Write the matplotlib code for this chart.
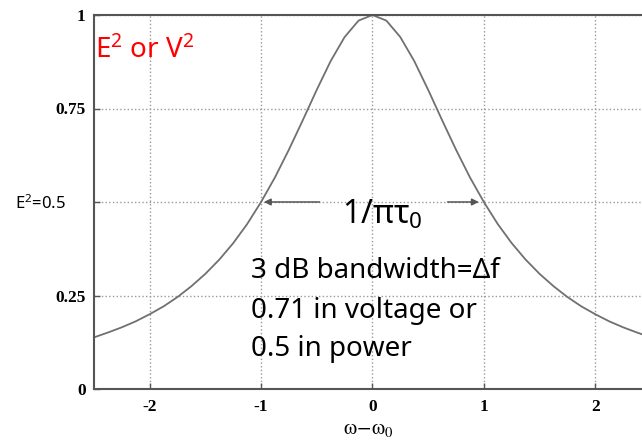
import matplotlib
matplotlib.use('Agg')
from matplotlib import pyplot as plt
from matplotlib import transforms

# values
freq = [-2.5, -2.375, -2.25, -2.125, -2.0, -1.875, -1.75, -1.625, -1.5, -1.375, -1.25, -1.125,
        -1.0, -0.875, -0.75, -0.625, -0.5, -0.375, -0.25, -0.125, 0.0,
        0.125, 0.25, 0.375, 0.5, 0.625, 0.75, 0.875, 1.0,
        1.125, 1.25, 1.375, 1.5, 1.625, 1.75, 1.875, 2.0, 2.125, 2.25, 2.375, 2.5]
power = [0.138, 0.151, 0.165, 0.181, 0.200, 0.221, 0.246, 0.275, 0.308, 0.346, 0.390, 0.441,
         0.500, 0.566, 0.640, 0.719, 0.800, 0.877, 0.941, 0.985, 1.000,
         0.985, 0.941, 0.877, 0.800, 0.719, 0.640, 0.566, 0.500,
         0.441, 0.390, 0.346, 0.308, 0.275, 0.246, 0.221, 0.200, 0.181, 0.165, 0.151, 0.138]
xticks = [-2, -1, 0, 1, 2]
yticks = [0, 0.25, 0.5, 0.75, 1]
ytick_labels = ['0', '0.25', '', '0.75', '1']
notes = ['3 dB bandwidth=\u0394f', '0.71 in voltage or', '0.5 in power']

plt.rcParams['mathtext.fontset'] = 'custom'
plt.rcParams['mathtext.rm'] = 'Noto Sans'
plt.rcParams['mathtext.it'] = 'Noto Sans:italic'
plt.rcParams['mathtext.bf'] = 'Noto Sans:bold'
plt.rcParams['mathtext.sf'] = 'Noto Sans'
sans = ['Noto Sans', 'DejaVu Sans']

fig = plt.figure(figsize=(6.42, 4.47), dpi=100)
ax = fig.add_axes([94 / 642, 1 - 389 / 447, 1 - 94 / 642, (389 - 15) / 447])

ax.plot(freq, power, color='#707070', lw=1.3, clip_on=False)

ax.set_xlim(-2.5, 2.42)
ax.set_ylim(0, 1)
ax.set_xticks(xticks)
ax.set_xticklabels([str(t) for t in xticks])
ax.set_yticks(yticks)
ax.set_yticklabels(ytick_labels)
for lab in ax.get_xticklabels() + ax.get_yticklabels():
    lab.set_family('Liberation Serif')
    lab.set_fontweight('bold')
    lab.set_fontsize(12.5)
ax.tick_params(direction='in', length=4, width=1, color='#555')
ax.tick_params(axis='y', pad=6)
ax.tick_params(axis='x', pad=7)
ax.grid(True, linestyle=':', color='#999', lw=1)

for s in ['left', 'bottom', 'top']:
    ax.spines[s].set_color('#555')
    ax.spines[s].set_linewidth(1.5)
ax.spines['right'].set_visible(False)

ax.set_xlabel(r'$\mathrm{\omega\!-\!\omega_0}$', fontsize=15, math_fontfamily='stix', labelpad=3)

# annotations
ax.text(-2.49, 0.886, r'$\mathrm{E^2}$ or $\mathrm{V^2}$', color='red', fontsize=20, family=sans, va='baseline')
trans = transforms.blended_transform_factory(ax.transAxes, ax.transData)
ax.text(-0.144, 0.482, r'$\mathrm{E^2}$=0.5', fontsize=12, family=sans, transform=trans, clip_on=False,
        va='baseline')
ax.text(0.09, 0.442, r'$\mathrm{1/\pi\tau_0}$', fontsize=23, ha='center', va='baseline', family=sans)
ax.annotate('', xy=(-1.0, 0.5), xytext=(-0.45, 0.5),
            arrowprops=dict(arrowstyle='-|>', color='#555', lw=1.1, mutation_scale=10))
ax.annotate('', xy=(0.98, 0.5), xytext=(0.65, 0.5),
            arrowprops=dict(arrowstyle='-|>', color='#555', lw=1.1, mutation_scale=10))
for txt, yb in zip(notes, [0.297, 0.190, 0.088]):
    ax.text(-1.09, yb, txt, fontsize=20, family=sans, va='baseline')

fig.savefig('out.png', dpi=100)
